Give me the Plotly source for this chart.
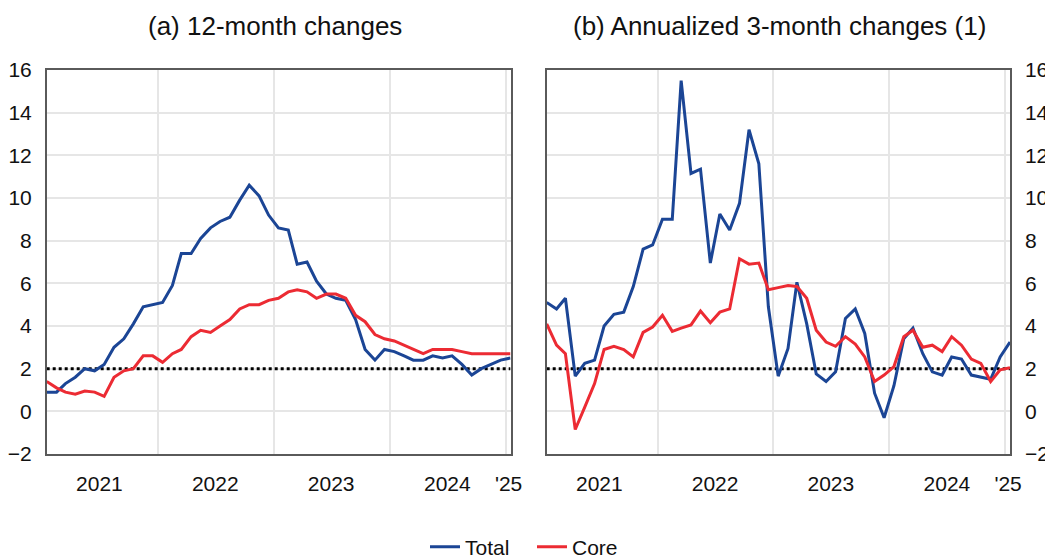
import pandas as pd
import plotly.graph_objects as go

# monthly observations, Jan 2021 .. Jan 2025 (plotted mid-month)
months = pd.date_range("2021-01-01", "2025-01-01", freq="MS") + pd.Timedelta(days=15)

# (a) 12-month changes
total_12m = [0.9, 0.9, 1.3, 1.6, 2.0, 1.9, 2.2, 3.0, 3.4, 4.1, 4.9, 5.0,
             5.1, 5.9, 7.4, 7.4, 8.1, 8.6, 8.9, 9.1, 9.9, 10.6, 10.1, 9.2,
             8.6, 8.5, 6.9, 7.0, 6.1, 5.5, 5.3, 5.2, 4.3, 2.9, 2.4, 2.9,
             2.8, 2.6, 2.4, 2.4, 2.6, 2.5, 2.6, 2.2, 1.7, 2.0, 2.2, 2.4, 2.5]
core_12m = [1.4, 1.1, 0.9, 0.8, 0.95, 0.9, 0.7, 1.6, 1.9, 2.0, 2.6, 2.6,
            2.3, 2.7, 2.9, 3.5, 3.8, 3.7, 4.0, 4.3, 4.8, 5.0, 5.0, 5.2,
            5.3, 5.6, 5.7, 5.6, 5.3, 5.5, 5.5, 5.3, 4.5, 4.2, 3.6, 3.4,
            3.3, 3.1, 2.9, 2.7, 2.9, 2.9, 2.9, 2.8, 2.7, 2.7, 2.7, 2.7, 2.7]

# (b) annualized 3-month changes
total_3m = [5.1, 4.8, 5.3, 1.65, 2.25, 2.4, 4.0, 4.55, 4.65, 5.85, 7.6, 7.8,
            9.0, 9.0, 15.5, 11.15, 11.35, 6.95, 9.25, 8.5, 9.75, 13.2, 11.6, 4.9,
            1.65, 2.95, 6.05, 4.1, 1.75, 1.4, 1.85, 4.35, 4.8, 3.65, 0.85, -0.3,
            1.2, 3.4, 3.9, 2.7, 1.85, 1.7, 2.55, 2.45, 1.7, 1.6, 1.5, 2.55, 3.25]
core_3m = [4.1, 3.1, 2.7, -0.85, 0.2, 1.3, 2.9, 3.05, 2.9, 2.55, 3.7, 3.95,
           4.5, 3.75, 3.9, 4.05, 4.7, 4.15, 4.65, 4.8, 7.15, 6.9, 6.95, 5.7,
           5.8, 5.9, 5.85, 5.3, 3.8, 3.25, 3.05, 3.5, 3.15, 2.55, 1.4, 1.7,
           2.1, 3.5, 3.8, 3.0, 3.1, 2.8, 3.5, 3.1, 2.45, 2.25, 1.4, 1.95, 2.05]

target = 2
year_starts = ["2022-01-01", "2023-01-01", "2024-01-01", "2025-01-01"]
label_pos = ["2021-07-01", "2022-07-01", "2023-07-01", "2024-07-01", "2025-01-10"]
label_text = ["2021", "2022", "2023", "2024", "'25"]
y_ticks = [-2, 0, 2, 4, 6, 8, 10, 12, 14, 16]

blue = "#1b4595"
red = "#ec2b33"
font = "Liberation Sans, Arial, sans-serif"

# page has an 8px body margin, so the figure is a bit smaller than the window
W, H, OFF = 1045, 550, 8
def px(x):
    return (x - OFF) / W
def py(y):
    return 1 - (y - OFF) / H

fig = go.Figure()
for ax, ya, tot, core, leg in [("x", "y", total_12m, core_12m, True),
                               ("x2", "y2", total_3m, core_3m, False)]:
    fig.add_trace(go.Scatter(x=[months[0], months[-1]], y=[target, target], mode="lines",
                             line=dict(color="black", width=3, dash="dot"),
                             showlegend=False, hoverinfo="skip", xaxis=ax, yaxis=ya))
    fig.add_trace(go.Scatter(x=months, y=tot, name="Total", mode="lines", showlegend=leg,
                             line=dict(color=blue, width=3), xaxis=ax, yaxis=ya))
    fig.add_trace(go.Scatter(x=months, y=core, name="Core", mode="lines", showlegend=leg,
                             line=dict(color=red, width=3), xaxis=ax, yaxis=ya))

xcommon = dict(type="date", range=[months[0], months[-1]], tickmode="array",
               tickvals=label_pos, ticktext=label_text, showgrid=False,
               ticks="", ticklabelstandoff=10, tickfont=dict(size=21, color="#111"),
               showline=True, mirror=True, linecolor="#5a5a5a", linewidth=1.5,
               minor=dict(tickmode="array", tickvals=year_starts, showgrid=True,
                          gridcolor="#e6e6e6", gridwidth=1.5, ticks=""),
               zeroline=False)
ycommon = dict(range=[-2, 16], tickmode="array", tickvals=y_ticks,
               showgrid=True, gridcolor="#e6e6e6", gridwidth=1.5, zeroline=False,
               ticks="", ticklabelstandoff=9, tickfont=dict(size=21, color="#111"),
               showline=True, mirror=True, linecolor="#5a5a5a", linewidth=1.5)

fig.update_layout(
    width=W, height=H,
    margin=dict(l=0, r=0, t=0, b=0, autoexpand=False),
    paper_bgcolor="white", plot_bgcolor="white",
    font=dict(family=font, color="#111"),
    xaxis=dict(domain=[px(46.7), px(510.5)], anchor="y", **xcommon),
    yaxis=dict(domain=[py(454), py(70)], anchor="x", side="left", **ycommon),
    xaxis2=dict(domain=[px(546.7), px(1010)], anchor="y2", **xcommon),
    yaxis2=dict(domain=[py(454), py(70)], anchor="x2", side="right", **ycommon),
    showlegend=True,
    legend=dict(orientation="h", x=px(532), xanchor="center", y=py(547), yanchor="middle",
                font=dict(size=21), itemwidth=30, entrywidth=62,
                bgcolor="rgba(0,0,0,0)"),
    annotations=[
        dict(text="(a) 12-month changes", x=px(275), y=py(26), xref="paper", yref="paper",
             xanchor="center", yanchor="middle", showarrow=False, font=dict(size=26)),
        dict(text="(b) Annualized 3-month changes (1)", x=px(779), y=py(26), xref="paper",
             yref="paper", xanchor="center", yanchor="middle", showarrow=False,
             font=dict(size=26)),
    ],
)

fig.write_html("out.html")
